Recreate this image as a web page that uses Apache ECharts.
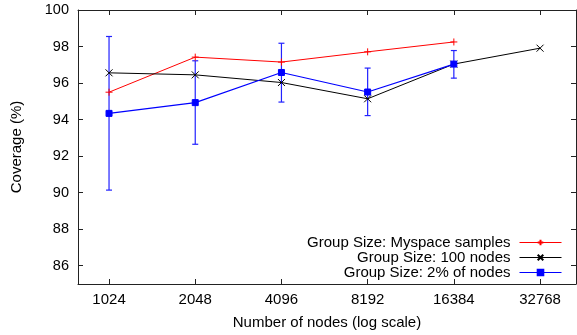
<!DOCTYPE html>
<html><head><meta charset="utf-8">
<script src="https://cdn.jsdelivr.net/npm/echarts@6/dist/echarts.min.js"></script>
<style>html,body{margin:0;padding:0;background:#fff}#c{width:577px;height:335px}</style>
</head><body><div id="c"></div>
<script>
const nodes = [1024, 2048, 4096, 8192, 16384, 32768];
const yTicks = [86, 88, 90, 92, 94, 96, 98, 100];
const myspace = [95.5, 97.42, 97.15, 97.71, 98.25];
const hundred = [96.56, 96.45, 96.03, 95.14, 97.04, 97.91];
const twoPct = [94.34, 94.93, 96.58, 95.51, 97.04];
const twoPctLow = [90.14, 92.65, 94.96, 94.22, 96.27];
const twoPctHigh = [98.55, 97.22, 98.18, 96.82, 97.78];
const names = ['Group Size: Myspace samples', 'Group Size: 100 nodes', 'Group Size: 2% of nodes'];

const lx = n => Math.log2(n);
const pts = vals => vals.map((v, i) => [lx(nodes[i]), v]);
const FONT = 'Liberation Sans';
const FS = 15;
const xMin = 9.64, xMax = 15.417;
const tickVals = nodes.map(lx);

const chart = echarts.init(document.getElementById('c'), null, {renderer: 'canvas'});
const axisLine = {show: true, lineStyle: {color: '#222', width: 1}};
chart.setOption({
  animation: false,
  textStyle: {fontFamily: FONT},
  grid: {left: 78, right: 1, top: 10, bottom: 50},
  legend: {
    right: 15, top: 235, orient: 'vertical', align: 'right',
    itemWidth: 42, itemHeight: 7, itemGap: 0, padding: 0,
    lineStyle: {width: 1},
    textStyle: {fontFamily: FONT, fontSize: FS, lineHeight: 14.5, color: '#000', padding: [0, 4, 0, 0]},
    data: names
  },
  xAxis: [{
    type: 'value', min: xMin, max: xMax, position: 'bottom',
    axisLine: axisLine,
    splitLine: {show: false},
    axisTick: {show: true, inside: true, length: 5, customValues: tickVals, lineStyle: {color: '#222'}},
    axisLabel: {customValues: tickVals, formatter: v => String(Math.round(Math.pow(2, v))), fontFamily: FONT, fontSize: FS, color: '#000', margin: 8},
    name: 'Number of nodes (log scale)', nameLocation: 'middle', nameGap: 31,
    nameTextStyle: {fontFamily: FONT, fontSize: FS, color: '#000'}
  }, {
    type: 'value', min: xMin, max: xMax, position: 'top',
    axisLine: axisLine, splitLine: {show: false},
    axisTick: {show: true, inside: true, length: 5, customValues: tickVals, lineStyle: {color: '#222'}},
    axisLabel: {show: false}
  }],
  yAxis: [{
    type: 'value', min: 85, max: 100, position: 'left',
    axisLine: axisLine, splitLine: {show: false},
    axisTick: {show: true, inside: true, length: 5, customValues: yTicks, lineStyle: {color: '#222'}},
    axisLabel: {customValues: yTicks, fontFamily: FONT, fontSize: 14.5, color: '#000', margin: 9},
    name: 'Coverage (%)', nameLocation: 'middle', nameGap: 54, nameRotate: 90,
    nameTextStyle: {fontFamily: FONT, fontSize: FS, color: '#000'}
  }, {
    type: 'value', min: 85, max: 100, position: 'right',
    axisLine: axisLine, splitLine: {show: false},
    axisTick: {show: true, inside: true, length: 5, customValues: yTicks, lineStyle: {color: '#222'}},
    axisLabel: {show: false}
  }],
  series: [{
    name: names[0], type: 'line', data: pts(myspace),
    symbol: 'path://M0,5L10,5M5,0L5,10', symbolSize: 7,
    lineStyle: {color: '#ff0000', width: 1},
    itemStyle: {color: '#ff0000', borderColor: '#ff0000', borderWidth: 1}
  }, {
    name: names[1], type: 'line', data: pts(hundred),
    symbol: 'path://M0,0L10,10M10,0L0,10', symbolSize: 7,
    lineStyle: {color: '#000', width: 1},
    itemStyle: {color: '#000', borderColor: '#000', borderWidth: 1}
  }, {
    name: names[2], type: 'line', data: pts(twoPct),
    symbol: 'rect', symbolSize: 6,
    lineStyle: {color: '#0000ff', width: 1.2},
    itemStyle: {color: '#0000ff', borderColor: '#0000ff', borderWidth: 1}
  }, {
    name: 'err', type: 'custom',
    data: twoPct.map((v, i) => [lx(nodes[i]), twoPctLow[i], twoPctHigh[i]]),
    renderItem: (params, api) => {
      const lo = api.coord([api.value(0), api.value(1)]);
      const hi = api.coord([api.value(0), api.value(2)]);
      const st = {stroke: '#2222ff', lineWidth: 1.2};
      const w = 3;
      return {type: 'group', children: [
        {type: 'line', shape: {x1: lo[0], y1: lo[1], x2: hi[0], y2: hi[1]}, style: st},
        {type: 'line', shape: {x1: lo[0] - w, y1: lo[1], x2: lo[0] + w, y2: lo[1]}, style: st},
        {type: 'line', shape: {x1: hi[0] - w, y1: hi[1], x2: hi[0] + w, y2: hi[1]}, style: st}
      ]};
    },
    z: 1
  }]
});
</script>
</body></html>
